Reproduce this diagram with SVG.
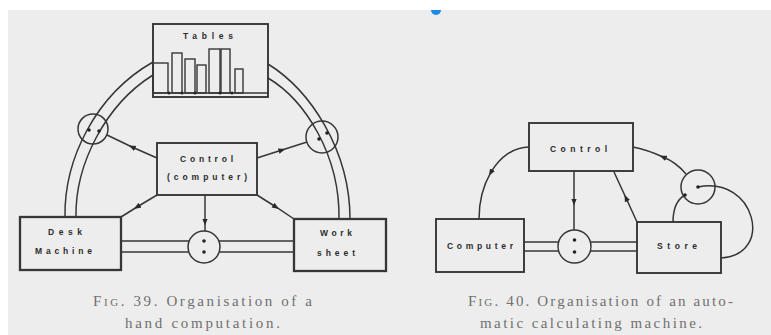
<svg xmlns="http://www.w3.org/2000/svg" width="771" height="335" viewBox="0 0 771 335">
<defs>
<style>
.ln{fill:none;stroke:#363636;stroke-width:1.5}
.bx{fill:none;stroke:#363636;stroke-width:1.9}
.dot{fill:#222}
.lbl{font-family:"Liberation Sans",Arial,sans-serif;font-size:8.5px;font-weight:bold;fill:#2c2c2c;dominant-baseline:central}
.cap{font-family:"Liberation Serif","Times New Roman",serif;font-size:15px;fill:#707070}
.sc{font-variant:small-caps}
.bar{fill:none;stroke:#363636;stroke-width:1.4}
.arr{marker-mid:url(#ah)}
.arre{marker-end:url(#ah)}
</style>
<marker id="ah" viewBox="0 0 10 10" refX="5" refY="5" markerWidth="7" markerHeight="7" orient="auto" markerUnits="userSpaceOnUse">
<path d="M0,1 L10,5 L0,9 Z" fill="#2a2a2a"/>
</marker>
</defs>
<rect x="0" y="0" width="771" height="335" fill="#ffffff"/>
<rect x="8" y="10" width="763" height="325" fill="#ededed"/>
<path d="M431,10 A5,5 0 0 0 441,10 Z" fill="#1a8be0"/>

<!-- Fig 39 connectors -->
<g id="connectors39">
<path class="ln" d="M65,217 C64,160 95,95 153,62"/>
<path class="ln" d="M76,217 C75,165 105,105 153,75"/>
<path class="ln" d="M268,64 C310,90 350,150 350,219"/>
<path class="ln" d="M268,78 C305,100 340,155 339,219"/>
<path class="ln arr" d="M157,158 L132,147 L107,135"/>
<path class="ln arr" d="M257,158 L282,150 L307,142"/>
<path class="ln arr" d="M157,195 L137,207 L121,217"/>
<path class="ln arr" d="M257,195 L276,207 L294,219"/>
<path class="ln arr" d="M205,195 L205,222 L205,231"/>
<path class="ln" d="M121,241 L189,241 M121,252 L189,252 M219,241 L294,241 M219,252 L294,252"/>
</g>

<g id="switch39-left">
<circle class="ln" cx="93" cy="129" r="15"/>
<circle class="dot" cx="89" cy="130" r="1.8"/>
<circle class="dot" cx="99" cy="131" r="1.8"/>
</g>
<g id="switch39-right">
<circle class="ln" cx="322" cy="137" r="16"/>
<circle class="dot" cx="327" cy="133" r="1.8"/>
<circle class="dot" cx="319" cy="139" r="1.8"/>
</g>
<g id="switch39-bottom">
<circle class="ln" cx="204" cy="247" r="16"/>
<circle class="dot" cx="204" cy="241" r="1.8"/>
<circle class="dot" cx="204" cy="252" r="1.8"/>
</g>

<g id="tables">
<rect x="153" y="24" width="115" height="73" fill="#f2f2f2" class="bx"/>
<text class="lbl" x="183" y="36" textLength="50" lengthAdjust="spacing">Tables</text>
<rect class="bar" x="153" y="63" width="15" height="30"/>
<rect class="bar" x="172" y="53" width="10" height="40"/>
<rect class="bar" x="185" y="59" width="10" height="34"/>
<rect class="bar" x="197" y="65" width="9" height="28"/>
<rect class="bar" x="209" y="49" width="11" height="44"/>
<rect class="bar" x="221" y="49" width="9" height="44"/>
<rect class="bar" x="235" y="69" width="8" height="24"/>
<path class="ln" d="M153,93 L268,93"/>
<circle class="dot" cx="169" cy="93" r="1.5"/>
<circle class="dot" cx="182" cy="93" r="1.5"/>
<circle class="dot" cx="195" cy="93" r="1.5"/>
<circle class="dot" cx="220" cy="93" r="1.5"/>
<circle class="dot" cx="232" cy="93" r="1.5"/>
</g>

<g id="control39">
<rect x="157" y="143" width="100" height="52" fill="#f2f2f2" class="bx"/>
<text class="lbl" x="180" y="159" textLength="53" lengthAdjust="spacing">Control</text>
<text class="lbl" x="167" y="177" textLength="80" lengthAdjust="spacing">(computer)</text>
</g>

<g id="desk-machine">
<rect x="20" y="217" width="101" height="53" fill="#f2f2f2" class="bx" style="stroke-width:2.3"/>
<text class="lbl" x="48" y="232" textLength="34" lengthAdjust="spacing">Desk</text>
<text class="lbl" x="35" y="251" textLength="57" lengthAdjust="spacing">Machine</text>
</g>

<g id="work-sheet">
<rect x="294" y="219" width="92" height="52" fill="#f2f2f2" class="bx" style="stroke-width:2.3"/>
<text class="lbl" x="320" y="233" textLength="32" lengthAdjust="spacing">Work</text>
<text class="lbl" x="317" y="253" textLength="38" lengthAdjust="spacing">sheet</text>
</g>

<g id="caption39">
<text class="cap" x="93" y="306" textLength="219" lengthAdjust="spacing"><tspan class="sc">Fig.</tspan> 39. Organisation of a</text>
<text class="cap" x="125" y="328" textLength="155" lengthAdjust="spacing">hand computation.</text>
</g>

<!-- Fig 40 connectors -->
<g id="connectors40">
<path class="ln arre" d="M529,147 A50,72 0 0 0 490.7,172.7"/>
<path class="ln" d="M490.7,172.7 A50,72 0 0 0 479,219"/>
<path class="ln arr" d="M574,171 L574,202 L574,230"/>
<path class="ln arr" d="M637,222 L626,198 L614,172"/>
<path class="ln arr" d="M686,174 Q676,162 663,157 Q648,150 633,147"/>
<path class="ln" d="M673,222 C673,208 678,199 685,195"/>
<path class="ln" d="M698,187 C755,175 775,255 721,258"/>
<path class="ln" d="M524,242 L558,242 M524,251 L558,251 M591,242 L637,242 M591,251 L637,251"/>
</g>

<g id="switch40-bottom">
<circle class="ln" cx="574.5" cy="246.5" r="16.5"/>
<circle class="dot" cx="574.5" cy="240" r="1.8"/>
<circle class="dot" cx="574.5" cy="252" r="1.8"/>
</g>
<g id="switch40-right">
<circle class="ln" cx="698" cy="187" r="17"/>
<circle class="dot" cx="685" cy="195" r="1.8"/>
<circle class="dot" cx="698" cy="187" r="1.8"/>
</g>

<g id="control40">
<rect x="529" y="123" width="104" height="48" fill="#f2f2f2" class="bx"/>
<text class="lbl" x="550" y="149" textLength="57" lengthAdjust="spacing">Control</text>
</g>

<g id="computer40">
<rect x="436" y="219" width="88" height="53" fill="#f2f2f2" class="bx"/>
<text class="lbl" x="447" y="246" textLength="66" lengthAdjust="spacing">Computer</text>
</g>

<g id="store40">
<rect x="637" y="222" width="84" height="51" fill="#f2f2f2" class="bx"/>
<text class="lbl" x="657" y="246" textLength="40" lengthAdjust="spacing">Store</text>
</g>

<g id="caption40">
<text class="cap" x="468" y="306" textLength="265" lengthAdjust="spacing"><tspan class="sc">Fig.</tspan> 40. Organisation of an auto-</text>
<text class="cap" x="480" y="328" textLength="222" lengthAdjust="spacing">matic calculating machine.</text>
</g>
</svg>
